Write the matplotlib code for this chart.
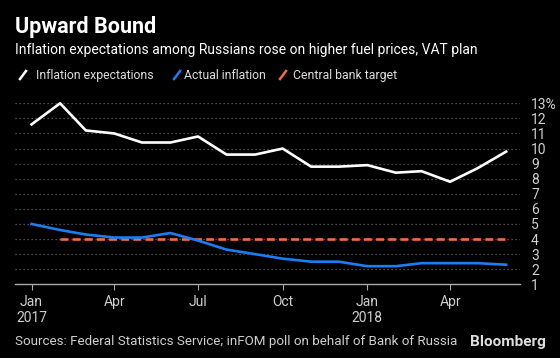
import matplotlib
matplotlib.use('Agg')
import datetime as dt
import matplotlib.pyplot as plt
import matplotlib.dates as mdates
from matplotlib.lines import Line2D

plt.rcParams['font.family'] = ['Roboto', 'DejaVu Sans']

months = [dt.date(2017, m, 1) for m in range(1, 13)] + [dt.date(2018, m, 1) for m in range(1, 7)]
expectations = [11.6, 13.0, 11.2, 11.0, 10.4, 10.4, 10.8, 9.6, 9.6, 10.0, 8.8, 8.8,
                8.9, 8.4, 8.5, 7.8, 8.7, 9.8]
actual = [5.0, 4.6, 4.3, 4.1, 4.1, 4.4, 3.9, 3.3, 3.0, 2.7, 2.5, 2.5,
          2.2, 2.2, 2.4, 2.4, 2.4, 2.3]
target_months = months[1:]
target = [4.0] * len(target_months)

y_ticks = list(range(1, 14))
y_labels = [str(v) for v in y_ticks[:-1]] + ['13%']
x_ticks = [dt.date(2017, 1, 1), dt.date(2017, 4, 1), dt.date(2017, 7, 1),
           dt.date(2017, 10, 1), dt.date(2018, 1, 1), dt.date(2018, 4, 1)]
x_labels = ['Jan\n2017', 'Apr', 'Jul', 'Oct', 'Jan\n2018', 'Apr']

W, H = 560, 358
fig = plt.figure(figsize=(W / 100, H / 100), dpi=100, facecolor='black')
ax = fig.add_axes([15 / W, 1 - 284.3 / H, (520 - 15) / W, (284.3 - 103.3) / H])
ax.set_facecolor('black')

grid_c = '#666666'
for v in y_ticks[1:]:
    ax.axhline(v, color=grid_c, lw=0.9, ls=(0, (1, 2.2)), zorder=1)

ax.plot(months, expectations, color='white', lw=1.9, zorder=4, clip_on=False)
ax.plot(months, actual, color='#1c7cf4', lw=1.9, zorder=3)
ax.plot(target_months, target, color='#f26b3a', lw=1.9, ls=(0, (3, 1.6)), zorder=2)

ax.set_ylim(1, 13)
ax.set_xlim(dt.date(2016, 12, 14), dt.date(2018, 6, 16))
ax.set_yticks(y_ticks)
ax.set_yticklabels(y_labels)
ax.yaxis.tick_right()
ax.tick_params(axis='y', length=0, pad=8, labelsize=10, labelcolor='#cfcfcf')
ax.set_xticks(x_ticks)
ax.set_xticklabels(x_labels)
ax.tick_params(axis='x', length=4, width=0.8, color='#aaaaaa', pad=4,
               labelsize=10, labelcolor='#cfcfcf')
for lab in ax.get_xticklabels():
    lab.set_linespacing(1.15)

for s in ['top', 'left', 'right']:
    ax.spines[s].set_visible(False)
ax.spines['bottom'].set_color('#aaaaaa')
ax.spines['bottom'].set_linewidth(1)

def fy(px):
    return 1 - px / H

fig.text(15 / W, fy(33), 'Upward Bound', color='white', fontsize=15.5,
         fontweight='bold', va='baseline')
fig.text(15 / W, fy(54), 'Inflation expectations among Russians rose on higher fuel prices, VAT plan',
         color='white', fontsize=10, va='baseline')

legend = [('Inflation expectations', 'white', 20, 36),
          ('Actual inflation', '#1c7cf4', 174, 184),
          ('Central bank target', '#f26b3a', 280, 293)]
for name, c, x0, xt in legend:
    fig.add_artist(Line2D([x0 / W, (x0 + 6) / W], [fy(79), fy(71)], color=c, lw=1.8))
    fig.text(xt / W, fy(79), name, color='#dddddd', fontsize=8.8, va='baseline')

fig.text(15 / W, fy(345), 'Sources: Federal Statistics Service; inFOM poll on behalf of Bank of Russia',
         color='#cfcfcf', fontsize=9.6, va='baseline')
fig.text(546 / W, fy(346), 'Bloomberg', color='#dddddd', fontsize=11,
         fontweight='bold', ha='right', va='baseline')

fig.savefig('out.png', dpi=100, facecolor='black')
